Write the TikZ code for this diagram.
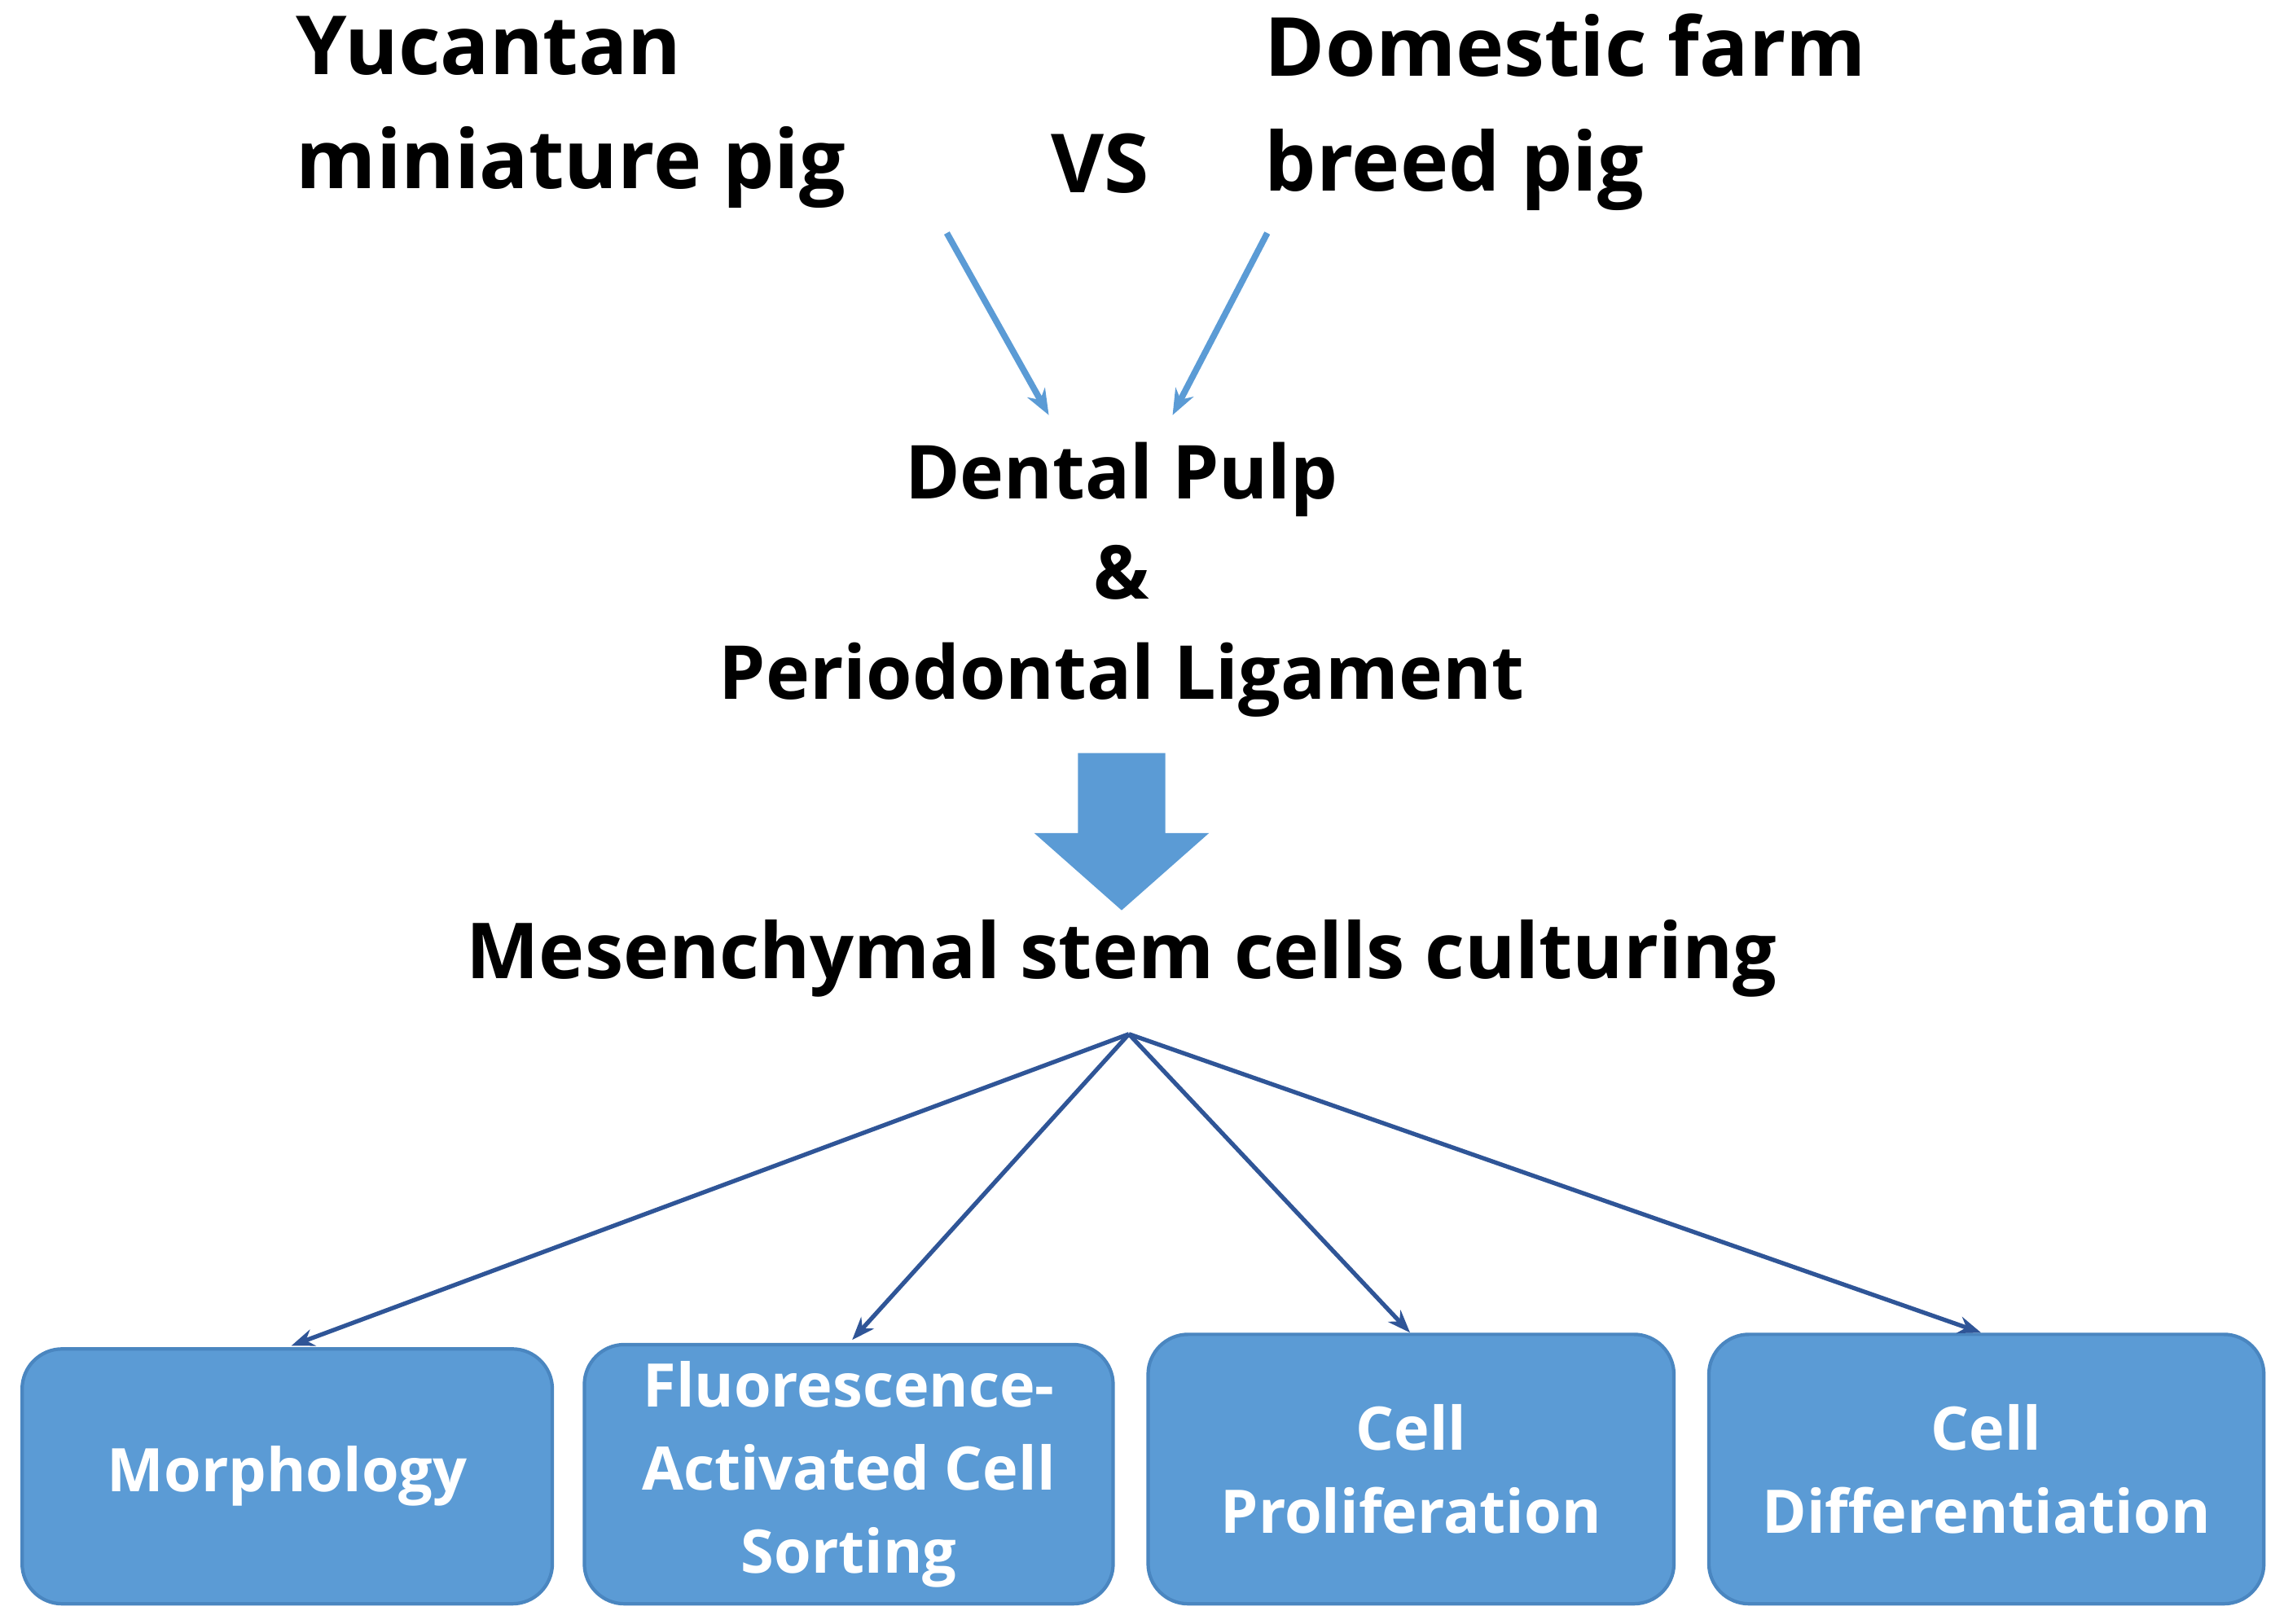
\documentclass[tikz,border=0pt]{standalone}
\usepackage{fontspec}
\setmainfont{Open Sans}
\usetikzlibrary{arrows.meta}
\definecolor{lb}{HTML}{5B9BD5}
\definecolor{db}{HTML}{2F5597}
\definecolor{bd}{HTML}{4A86C0}
\newcommand{\U}{0.01788cm}
\begin{document}
\begin{tikzpicture}[x=0.01788cm,y=-0.01788cm,
  hd/.style={font=\fontsize{26}{35}\selectfont\bfseries, inner sep=0pt},
  top/.style={font=\fontsize{28.5}{40}\selectfont\bfseries, inner sep=0pt},
  box/.style={draw=bd, line width=1.2pt, fill=lb, rounded corners=14pt, text=white,
    font=\fontsize{21}{29}\selectfont\bfseries, align=center, inner sep=0pt},
  thin/.style={-{Stealth[length=9pt,width=7pt]}, lb, line width=2.2pt},
  br/.style={-{Stealth[length=8pt,width=6pt]}, db, line width=1.5pt}]
\useasboundingbox (0,0) rectangle (1568,1115);
\node[top, anchor=west, align=left] (yuc) at (203,77) {Yucantan\\miniature pig};
\node[top] (vs) at (755,112) {VS};
\node[top, anchor=west, align=left] (dom) at (868,77) {Domestic farm\\breed pig};
\coordinate (a1) at (650,160); \coordinate (a2) at (870,160);
\node[hd, align=center] (dp) at (770,398) {Dental Pulp\\\&\\Periodontal Ligament};
\draw[thin] (a1) -- (720,285);
\draw[thin] (a2) -- (805,285);
\fill[lb] (740,517) -- (800,517) -- (800,572) -- (830,572) -- (770,625) -- (710,572) -- (740,572) -- cycle;
\node[hd, font=\fontsize{27}{35}\selectfont\bfseries] (msc) at (770,658) {Mesenchymal stem cells culturing};
\coordinate (bp) at (775,710);
\node[box, minimum width={364*\U}, minimum height={175*\U}, anchor=north west] (b1) at (14,925) {Morphology};
\node[box, minimum width={363*\U}, minimum height={178*\U}, anchor=north west] (b2) at (400,922) {Fluorescence-\\Activated Cell\\Sorting};
\node[box, minimum width={361*\U}, minimum height={185*\U}, anchor=north west] (b3) at (787,915) {Cell\\Proliferation};
\node[box, minimum width={381*\U}, minimum height={185*\U}, anchor=north west] (b4) at (1172,915) {Cell\\Differentiation};
\draw[br] (bp) -- (200,924);
\draw[br] (bp) -- (585,920);
\draw[br] (bp) -- (968,915);
\draw[br] (bp) -- (1360,915);
\end{tikzpicture}
\end{document}
